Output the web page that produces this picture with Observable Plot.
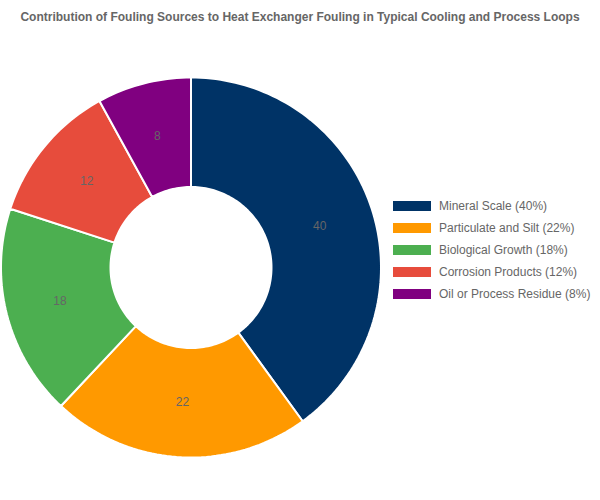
<!DOCTYPE html>
<html>
<head>
<meta charset="utf-8">
<script src="https://cdn.jsdelivr.net/npm/d3@7"></script>
<script src="https://cdn.jsdelivr.net/npm/@observablehq/plot@0.6"></script>
<style>
  body { margin: 0; background: #fff; font-family: "Liberation Sans", Arial, Helvetica, sans-serif; }
  #wrap { position: relative; width: 600px; height: 500px; }
  #title { height: 34px; line-height: 34px; text-align: center; font-weight: bold; font-size: 12px; color: #666; white-space: nowrap; }
  #legend { position: absolute; left: 393px; top: 195px; }
  .row { display: flex; align-items: center; height: 22px; font-size: 12px; color: #666; white-space: nowrap; }
  .sw { width: 38px; height: 10px; margin-right: 8px; }
</style>
</head>
<body>
<div id="wrap">
  <div id="title">Contribution of Fouling Sources to Heat Exchanger Fouling in Typical Cooling and Process Loops</div>
  <div id="chart"></div>
  <div id="legend"></div>
</div>
<script>
const categories = ["Mineral Scale", "Particulate and Silt", "Biological Growth", "Corrosion Products", "Oil or Process Residue"];
const values = [40, 22, 18, 12, 8];
const colors = ["#003366", "#FF9900", "#4CAF50", "#E74C3C", "#800080"];

const innerRatio = 80.5 / 190;
const pie = d3.pie().sort(null).value(d => d.value);
const arcs = pie(categories.map((name, i) => ({name, value: values[i]})));

const pts = [];
const labels = [];
for (const a of arcs) {
  const n = Math.max(8, Math.ceil((a.endAngle - a.startAngle) / (2 * Math.PI) * 240));
  const ring = [];
  for (let k = 0; k <= n; k++) {
    const t = a.startAngle + (a.endAngle - a.startAngle) * k / n;
    ring.push({name: a.data.name, x: Math.sin(t), y: Math.cos(t)});
  }
  for (let k = n; k >= 0; k--) {
    const t = a.startAngle + (a.endAngle - a.startAngle) * k / n;
    ring.push({name: a.data.name, x: innerRatio * Math.sin(t), y: innerRatio * Math.cos(t)});
  }
  ring.push(ring[0]);
  pts.push(...ring);
  const mid = (a.startAngle + a.endAngle) / 2;
  const r = (1 + innerRatio) / 2;
  labels.push({name: a.data.name, value: a.data.value, x: r * Math.sin(mid), y: r * Math.cos(mid)});
}

const cx = 190.5, cy = 233, R = 190;
const chart = Plot.plot({
  width: 600,
  height: 466,
  margin: 0,
  style: {fontFamily: '"Liberation Sans", Arial, Helvetica, sans-serif', background: "#fff"},
  x: {domain: [-1, 1], range: [cx - R, cx + R], axis: null},
  y: {domain: [-1, 1], range: [cy + R, cy - R], axis: null},
  color: {domain: categories, range: colors},
  marks: [
    Plot.line(pts, {x: "x", y: "y", z: "name", fill: "name", stroke: "#fff", strokeWidth: 2, strokeLinejoin: "round", curve: "linear"}),
    Plot.text(labels, {x: "x", y: "y", text: d => String(d.value), fill: "#666", fontSize: 12})
  ]
});
document.getElementById("chart").appendChild(chart);

const legend = document.getElementById("legend");
categories.forEach((c, i) => {
  const row = document.createElement("div");
  row.className = "row";
  const sw = document.createElement("span");
  sw.className = "sw";
  sw.style.background = colors[i];
  const tx = document.createElement("span");
  tx.textContent = `${c} (${values[i]}%)`;
  row.appendChild(sw);
  row.appendChild(tx);
  legend.appendChild(row);
});
</script>
</body>
</html>
